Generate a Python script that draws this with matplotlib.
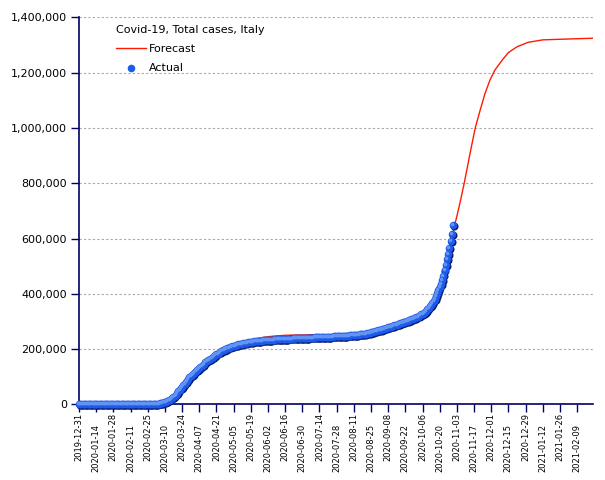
import matplotlib
matplotlib.use("Agg")
import matplotlib.pyplot as plt
import matplotlib.dates as mdates
import matplotlib.transforms as mtransforms
from matplotlib.ticker import FuncFormatter
import pandas as pd

# daily total cases, Italy (ECDC reporting dates), from 2019-12-31
actual_start = "2019-12-31"
actual = [
    0, 0, 0, 0, 0, 0, 0, 0, 0, 0, 0, 0, 0, 0, 0, 0,
    0, 0, 0, 0, 0, 0, 0, 0, 0, 0, 0, 0, 0, 0, 0, 0,
    # feb
    2, 2, 2, 2, 2, 2, 3, 3, 3, 3, 3, 3, 3, 3, 3, 3, 3, 3, 3, 3, 3,
    20, 79, 152, 229, 322, 400, 650, 888,
    # mar
    1128, 1694, 2036, 2502, 3089, 3858, 4636, 5883, 7375, 9172, 10149,
    12462, 15113, 17660, 21157, 24747, 27980, 31506, 35713, 41035, 47021,
    53578, 59138, 63927, 69176, 74386, 80589, 86498, 92472, 97689, 101739,
    # apr
    105792, 110574, 115242, 119827, 124632, 128948, 132547, 135586, 139422,
    143626, 147577, 152271, 156363, 159516, 162488, 165155, 168941, 172434,
    175925, 178972, 181228, 183957, 187327, 189973, 192994, 195351, 197675,
    199414, 201505, 203591,
    # may
    205463, 207428, 209328, 210717, 211938, 213013, 214457, 215858, 217185,
    218268, 219070, 219814, 221216, 222104, 223096, 223885, 224760, 225435,
    225886, 226699, 227364, 228006, 228658, 229327, 229858, 230158, 230555,
    231139, 231732, 232248, 232664,
    # jun
    233019, 233197, 233515, 233836, 234013, 234531, 234801, 234998, 235278,
    235561, 235763, 236142, 236305, 236651, 236989, 237290, 237500, 237828,
    238159, 238011, 238275, 238499, 238720, 238833, 239410, 239706, 239961,
    240136, 240310, 240436,
    # jul
    240578, 240760, 240961, 241184, 241419, 241611, 241819, 241956, 242149,
    242363, 242639, 242827, 243061, 243230, 243344, 243506, 243736, 243967,
    244216, 244434, 244624, 244752, 245032, 245338, 245590, 245864, 246118,
    246286, 246488, 246776, 247158,
    # aug
    247537, 247832, 248070, 248229, 248419, 248803, 249204, 249756, 250103,
    250566, 250825, 251237, 251713, 252235, 252809, 253438, 253915, 254235,
    254636, 255278, 256118, 257065, 258136, 259345, 260298, 261174, 262540,
    263949, 265409, 267298, 268218,
    # sep
    269214, 270189, 271515, 272912, 274644, 276338, 277634, 278784, 280153,
    281583, 283180, 284796, 286297, 287753, 288761, 290217, 291442, 293025,
    294932, 296569, 298156, 299506, 300897, 302537, 304323, 306235, 308104,
    309870, 311364, 313011,
    # oct
    314861, 317409, 319908, 322751, 325329, 327586, 330263, 333940, 338398,
    343770, 349494, 354950, 359569, 365467, 372799, 381602, 391611, 402536,
    414241, 423578, 434449, 449648, 465726, 484869, 504509, 525782, 542789,
    564778, 589766, 616595, 647674,
]

# forecast curve
forecast_dates = [
    "2019-12-31", "2020-02-18", "2020-02-25", "2020-03-03", "2020-03-10",
    "2020-03-17", "2020-03-24", "2020-03-31", "2020-04-07", "2020-04-14",
    "2020-04-21", "2020-04-28", "2020-05-05", "2020-05-12", "2020-05-19",
    "2020-05-26", "2020-06-02", "2020-06-09", "2020-06-16", "2020-06-23",
    "2020-06-30", "2020-07-14", "2020-07-28", "2020-08-11", "2020-08-25",
    "2020-09-08", "2020-09-15", "2020-09-22", "2020-09-29", "2020-10-06",
    "2020-10-13", "2020-10-20", "2020-10-25", "2020-10-29", "2020-11-01",
    "2020-11-03", "2020-11-06", "2020-11-09", "2020-11-12", "2020-11-15",
    "2020-11-18", "2020-11-22", "2020-11-26", "2020-11-30", "2020-12-04",
    "2020-12-10", "2020-12-15", "2020-12-22", "2020-12-31", "2021-01-12",
    "2021-02-01", "2021-02-22",
]
forecast = [
    0, 0, 500, 3000, 12000,
    32000, 64000, 100000, 131000, 158000,
    180000, 198000, 212000, 224000, 233000,
    240000, 245000, 248000, 250000, 251000,
    251500, 251500, 251000, 252000, 257000,
    266000, 272000, 281000, 295000, 320000,
    356000, 418000, 498000, 583000, 645000,
    680000, 738000, 800000, 868000, 935000,
    1000000, 1064000, 1125000, 1173000, 1209000,
    1245000, 1272000, 1293000, 1309000, 1318000,
    1321000, 1324000,
]

x_start = "2019-12-31"
x_end = "2021-02-22"
tick_dates = pd.date_range("2019-12-31", "2021-02-09", freq="14D")
tick_labels = [d.strftime("%Y-%m-%d") for d in tick_dates]
y_ticks = [0, 200000, 400000, 600000, 800000, 1000000, 1200000, 1400000]

navy = "#000066"

fig = plt.figure(figsize=(6.05, 4.8), dpi=100)
ax = fig.add_axes([0.1306, 0.1573, 0.8496, 0.8069])

act_dates = pd.date_range(actual_start, periods=len(actual), freq="D")
f_dates = pd.to_datetime(forecast_dates)

(fline,) = ax.plot(f_dates, forecast, color="#ff1a00", lw=1.0, zorder=3,
                   label="Forecast")

# shaded "spheres": dark shadow, blue body, light highlight
shadow = mtransforms.offset_copy(ax.transData, fig=fig, x=0.8, y=-0.8,
                                 units="dots")
ax.scatter(act_dates, actual, s=34, color="#0b1c6e", linewidths=0,
           zorder=4, clip_on=False, transform=shadow)
pts = ax.scatter(act_dates, actual, s=30, color="#1c5aea", linewidths=0,
                 zorder=5, clip_on=False, label="Actual")
hl = mtransforms.offset_copy(ax.transData, fig=fig, x=-1.0, y=1.0,
                             units="dots")
ax.scatter(act_dates, actual, s=7, color="#6394f2", linewidths=0,
           zorder=6, clip_on=False, transform=hl)

ax.set_xlim(pd.Timestamp(x_start), pd.Timestamp(x_end))
ax.set_ylim(0, 1400000)

ax.set_xticks(tick_dates)
ax.tick_params(axis="x", length=6, width=1, color=navy, labelbottom=False)
# staggered date labels, every other one pushed down
for i, (d, lab) in enumerate(zip(tick_dates, tick_labels)):
    ax.annotate(lab, xy=(mdates.date2num(d), 0),
                xycoords=ax.get_xaxis_transform(),
                xytext=(0, -6.3 if i % 2 == 0 else -13.8),
                textcoords="offset points", rotation=90, ha="center",
                va="top", fontsize=6, annotation_clip=False)

ax.set_yticks(y_ticks)
ax.yaxis.set_major_formatter(FuncFormatter(lambda v, p: f"{int(v):,}"))
ax.tick_params(axis="y", length=6, width=1, color=navy, labelsize=8, pad=2.5)

ax.yaxis.grid(True, color="#a8a8a8", linestyle=(0, (2, 2)), linewidth=0.8)
ax.set_axisbelow(True)

for side in ["top", "right"]:
    ax.spines[side].set_visible(False)
for side in ["left", "bottom"]:
    ax.spines[side].set_color(navy)
    ax.spines[side].set_linewidth(1.2)

ax.legend(handles=[fline, pts], title="Covid-19, Total cases, Italy",
          loc="upper left", bbox_to_anchor=(116 / 605, 1 - 25 / 480),
          bbox_transform=fig.transFigure, frameon=False, fontsize=8,
          title_fontsize=8, alignment="left", borderpad=0, borderaxespad=0,
          handlelength=2.7, handletextpad=0.3, labelspacing=0.82)

fig.savefig("out.png", dpi=100)
